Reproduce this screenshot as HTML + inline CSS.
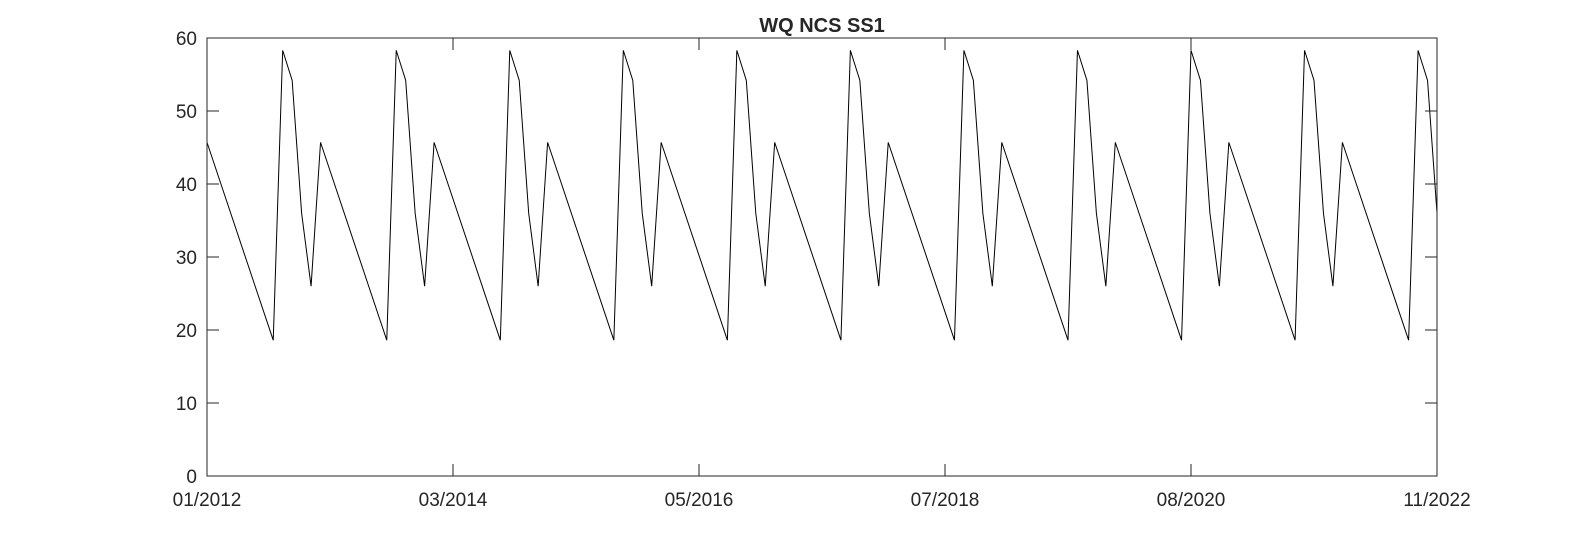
<!DOCTYPE html>
<html><head><meta charset="utf-8"><style>
html,body{margin:0;padding:0;background:#fff;}
svg text{font-family:"Liberation Sans",Arial,sans-serif;fill:#262626;}
</style></head><body>
<svg id="chart" width="1591" height="536" xmlns="http://www.w3.org/2000/svg"></svg>
<script>
const months = [0,7,8,9,10,11, 12,19,20,21,22,23, 24,31,32,33,34,35, 36,43,44,45,46,47, 48,55,56,57,58,59, 60,67,68,69,70,71, 72,79,80,81,82,83, 84,91,92,93,94,95, 96,103,104,105,106,107, 108,115,116,117,118,119, 120,127,128,129,130];
const values = [45.7,18.6,58.3,54.2,36,26, 45.7,18.6,58.3,54.2,36,26, 45.7,18.6,58.3,54.2,36,26, 45.7,18.6,58.3,54.2,36,26, 45.7,18.6,58.3,54.2,36,26, 45.7,18.6,58.3,54.2,36,26, 45.7,18.6,58.3,54.2,36,26, 45.7,18.6,58.3,54.2,36,26, 45.7,18.6,58.3,54.2,36,26, 45.7,18.6,58.3,54.2,36,26, 45.7,18.6,58.3,54.2,36];
const xTickMonths = [0,26,52,78,104,130];
const xTickLabels = ["01/2012","03/2014","05/2016","07/2018","08/2020","11/2022"];
const yTicks = [0,10,20,30,40,50,60];

const svg = document.getElementById('chart');
const NS = 'http://www.w3.org/2000/svg';
const L=207, R=1437, T=38, B=476;
const xMin=0, xMax=130, yMin=0, yMax=60;
const xs = m => L + (m-xMin)/(xMax-xMin)*(R-L);
const ys = v => B - (v-yMin)/(yMax-yMin)*(B-T);
function mk(tag, attrs){ const e=document.createElementNS(NS,tag); for(const k in attrs) e.setAttribute(k,attrs[k]); svg.appendChild(e); return e; }

let p = months.map((m,i)=>(i?'L':'M')+xs(m).toFixed(2)+','+ys(values[i]).toFixed(2)).join(' ');
const line = mk('path',{d:p,fill:'none',stroke:'#000','stroke-width':1});



const box = mk('rect',{x:L,y:T,width:R-L,height:B-T,fill:'none',stroke:'#262626','stroke-width':1});



yTicks.forEach(v=>{
  const y=ys(v);
  const t1=mk('line',{x1:L,x2:L+12,y1:y,y2:y,stroke:'#262626'});
  
  
  const t2=mk('line',{x1:R-12,x2:R,y1:y,y2:y,stroke:'#262626'});
  
  
  const tx=mk('text',{x:L-10,y:y+7,'text-anchor':'end','font-size':19});
  tx.textContent=v;
  
  
});
xTickMonths.forEach((m,i)=>{
  const x=xs(m);
  const t1=mk('line',{x1:x,x2:x,y1:B,y2:B-12,stroke:'#262626'});
  
  
  const t2=mk('line',{x1:x,x2:x,y1:T,y2:T+12,stroke:'#262626'});
  
  
  const tx=mk('text',{x:x,y:B+30,'text-anchor':'middle','font-size':19});
  tx.textContent=xTickLabels[i];
  
  
});
const title=mk('text',{x:(L+R)/2,y:32,'text-anchor':'middle','font-size':20,'font-weight':'bold'});
title.textContent='WQ NCS SS1';


</script>
</body></html>
